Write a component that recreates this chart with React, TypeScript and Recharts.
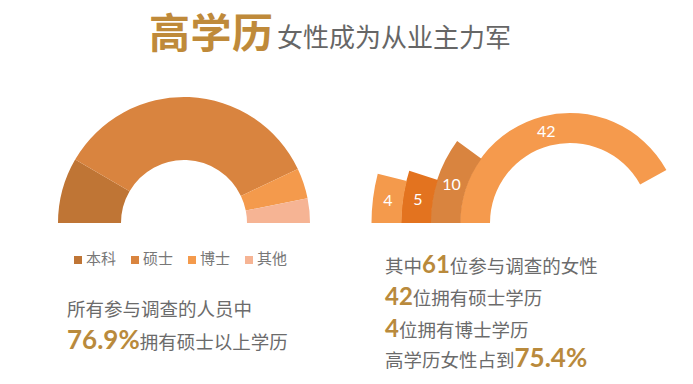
import { PieChart, Pie, Cell, Legend, RadialBarChart, RadialBar, PolarAngleAxis, PolarRadiusAxis, LabelList } from 'recharts'

// share of all respondents by degree (%)
const eduLabels = ['本科', '硕士', '博士', '其他']
const eduShares = [16.8, 69.1, 7.8, 6.3]
const eduColors = ['#BF7535', '#D9843F', '#F49A4C', '#F6B494']

// the 61 women, counted by degree, inner ring first
const womenLabels = ['硕士', '本科', '其他', '博士']
const womenCounts = [42, 10, 5, 4]
const womenColors = ['#F59A4D', '#D9843F', '#E3731F', '#F49A4C']

const eduData = eduLabels.map((name, i) => ({ name, value: eduShares[i] }))
const womenData = womenLabels.map((name, i) => ({ name, count: womenCounts[i] }))

const CJK = "'Noto Sans CJK SC', sans-serif"
const NUM = "Lato, 'Noto Sans', sans-serif"
const GRAY = '#6B6B6B'
const GOLD = '#B98A3C'

export default function App() {
  return (
    <div style={{ position: 'absolute', left: 0, top: 0, width: 693, height: 384, background: '#fff', overflow: 'hidden' }}>
      <div style={{ position: 'absolute', left: 0, top: 0 }}>
        <PieChart width={340} height={280} margin={{ top: 0, right: 0, bottom: 0, left: 0 }}>
          <Pie
            data={eduData}
            dataKey="value"
            nameKey="name"
            cx={184}
            cy={223}
            innerRadius={63}
            outerRadius={126}
            startAngle={180}
            endAngle={0}
            stroke="none"
            isAnimationActive={false}
          >
            {eduData.map((d, i) => (
              <Cell key={d.name} fill={eduColors[i]} />
            ))}
          </Pie>
          <Legend
            iconType="square"
            iconSize={8}
            align="left"
            verticalAlign="bottom"
            itemSorter={(item: any) => eduLabels.indexOf(item.value)}
            wrapperStyle={{ left: 74, top: 245, width: 'auto', fontFamily: CJK }}
            formatter={val => (
              <span style={{ color: '#777', fontSize: 15, paddingRight: 5 }}>{val}</span>
            )}
          />
        </PieChart>
      </div>

      <div style={{ position: 'absolute', left: 340, top: 0 }}>
        <RadialBarChart
          width={353}
          height={240}
          data={womenData}
          cx={230}
          cy={223}
          innerRadius={80}
          outerRadius={198}
          startAngle={180}
          endAngle={0}
          barCategoryGap={0}
          margin={{ top: 0, right: 0, bottom: 0, left: 0 }}
        >
          <PolarAngleAxis type="number" domain={[0, 50]} tick={false} axisLine={false} />
          <PolarRadiusAxis type="category" dataKey="name" tick={false} axisLine={false} />
          <RadialBar dataKey="count" isAnimationActive={false}>
            {womenData.map((d, i) => (
              <Cell key={i} fill={womenColors[i]} />
            ))}
            <LabelList dataKey="count" position="inside" fill="#fff" fontSize={16} fontFamily={NUM} />
          </RadialBar>
        </RadialBarChart>
      </div>

      <svg width={693} height={384} style={{ position: 'absolute', left: 0, top: 0, pointerEvents: 'none' }}>
        <text x={149} y={48} fontFamily={CJK} fontSize={41} fontWeight={700} fill="#BF8A3A" letterSpacing={0.5}>高学历</text>
        <text x={277} y={47} fontFamily={CJK} fontSize={26} fill="#666">女性成为从业主力军</text>

        <text x={67} y={316} fontFamily={CJK} fontSize={18.5} fill={GRAY}>所有参与调查的人员中</text>
        <text x={67} y={349} fontFamily={CJK} fontSize={18.5} fill={GRAY}>
          <tspan fontFamily={NUM} fontWeight={700} fontSize={26} fill={GOLD}>76.9%</tspan>
          <tspan>拥有硕士以上学历</tspan>
        </text>

        <text x={385} y={273} fontFamily={CJK} fontSize={18.5} fill={GRAY}>
          <tspan>其中</tspan>
          <tspan fontFamily={NUM} fontWeight={700} fontSize={24} fill={GOLD}>61</tspan>
          <tspan>位参与调查的女性</tspan>
        </text>
        <text x={385} y={305} fontFamily={CJK} fontSize={18.5} fill={GRAY}>
          <tspan fontFamily={NUM} fontWeight={700} fontSize={24} fill={GOLD}>42</tspan>
          <tspan>位拥有硕士学历</tspan>
        </text>
        <text x={385} y={337} fontFamily={CJK} fontSize={18.5} fill={GRAY}>
          <tspan fontFamily={NUM} fontWeight={700} fontSize={24} fill={GOLD}>4</tspan>
          <tspan>位拥有博士学历</tspan>
        </text>
        <text x={385} y={367} fontFamily={CJK} fontSize={18.5} fill={GRAY}>
          <tspan>高学历女性占到</tspan>
          <tspan fontFamily={NUM} fontWeight={700} fontSize={26} fill={GOLD}>75.4%</tspan>
        </text>
      </svg>
    </div>
  )
}
